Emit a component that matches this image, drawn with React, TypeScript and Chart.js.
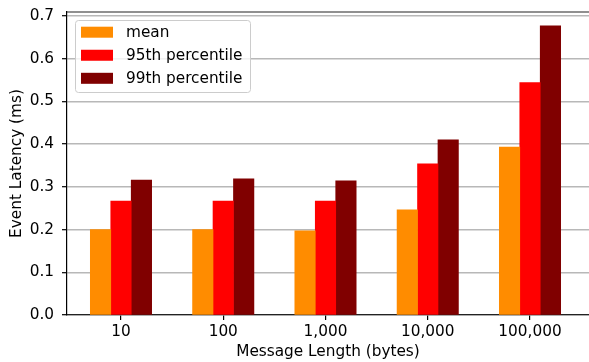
import React, { useEffect, useRef } from "react";
import { Chart, registerables } from "chart.js";

Chart.register(...registerables);

const categories = ["10", "100", "1,000", "10,000", "100,000"];
const meanValues = [0.2, 0.2, 0.197, 0.246, 0.393];
const p95Values = [0.267, 0.267, 0.267, 0.354, 0.544];
const p99Values = [0.316, 0.319, 0.314, 0.41, 0.677];
const yTicks = [0, 0.1, 0.2, 0.3, 0.4, 0.5, 0.6, 0.7];
const seriesNames = ["mean", "95th percentile", "99th percentile"];
const seriesColors = ["#ff8c00", "#ff0000", "#800000"];

const FONT = "DejaVu Sans";
const FS = 15.3;

const framePlugin = {
  id: "frameAndLegend",
  afterDraw(chart: any) {
    const { ctx, chartArea } = chart;
    ctx.save();
    // top spine
    ctx.strokeStyle = "#222";
    ctx.lineWidth = 1.2;
    ctx.beginPath();
    ctx.moveTo(chartArea.left, chartArea.top);
    ctx.lineTo(chartArea.right, chartArea.top);
    ctx.stroke();

    // legend
    const lx = 75.5, ly = 20.5, lw = 175, lh = 72, r = 3;
    ctx.beginPath();
    ctx.moveTo(lx + r, ly);
    ctx.lineTo(lx + lw - r, ly);
    ctx.arcTo(lx + lw, ly, lx + lw, ly + r, r);
    ctx.lineTo(lx + lw, ly + lh - r);
    ctx.arcTo(lx + lw, ly + lh, lx + lw - r, ly + lh, r);
    ctx.lineTo(lx + r, ly + lh);
    ctx.arcTo(lx, ly + lh, lx, ly + lh - r, r);
    ctx.lineTo(lx, ly + r);
    ctx.arcTo(lx, ly, lx + r, ly, r);
    ctx.closePath();
    ctx.fillStyle = "rgba(255,255,255,0.8)";
    ctx.fill();
    ctx.strokeStyle = "#cccccc";
    ctx.lineWidth = 1;
    ctx.stroke();

    ctx.font = `${FS}px "${FONT}"`;
    ctx.textBaseline = "middle";
    ctx.textAlign = "left";
    chart.data.datasets.forEach((ds: any, i: number) => {
      const cy = 32.2 + i * 23.05;
      ctx.fillStyle = ds.backgroundColor;
      ctx.fillRect(81, cy - 5.5, 32, 11);
      ctx.fillStyle = "#000";
      ctx.fillText(ds.label, 126, cy + 0.5);
    });
    ctx.restore();
  },
};

export default function App() {
  const ref = useRef<HTMLCanvasElement>(null);
  useEffect(() => {
    if (!ref.current) return;
    Chart.defaults.font.family = FONT;
    const mk = (vals: number[]) => vals.map((v, i) => ({ x: i, y: v }));
    const allVals = [meanValues, p95Values, p99Values];
    const chart = new Chart(ref.current, {
      type: "bar",
      data: {
        datasets: allVals.map((vals, k) => ({
          label: seriesNames[k],
          data: mk(vals),
          backgroundColor: seriesColors[k],
          borderWidth: 0,
          barThickness: 20.45,
        })),
      },
      options: {
        animation: false,
        responsive: false,
        maintainAspectRatio: false,
        layout: { padding: { top: 12, left: 0, right: 0, bottom: 0 } },
        plugins: { legend: { display: false }, tooltip: { enabled: false } },
        scales: {
          x: {
            type: "linear",
            offset: false,
            min: -0.528,
            max: 4.577,
            z: 2,
            afterFit: (s: any) => {
              s.height = 47;
              s.paddingLeft = 0;
              s.paddingRight = 0;
            },
            afterBuildTicks: (s: any) => {
              s.ticks = categories.map((_, i) => ({ value: i }));
            },
            ticks: {
              font: { size: FS },
              color: "#000",
              padding: 3,
              autoSkip: false,
              maxRotation: 0,
              callback: (v: any) => categories[Math.round(Number(v))] ?? "",
            },
            grid: {
              offset: false,
              drawOnChartArea: false,
              drawTicks: true,
              tickLength: 5,
              color: "#000",
              lineWidth: 1.2,
            },
            border: { display: true, color: "#222", width: 1.2 },
            title: {
              display: true,
              text: "Message Length (bytes)",
              font: { size: FS },
              color: "#000",
              padding: { top: 0, bottom: 0.8 },
            },
          },
          y: {
            type: "linear",
            min: 0,
            max: 0.7094,
            z: 1,
            afterFit: (s: any) => {
              s.width = 67;
              s.paddingTop = 0;
              s.paddingBottom = 0;
            },
            afterBuildTicks: (s: any) => {
              s.ticks = yTicks.map((v) => ({ value: v }));
            },
            ticks: {
              font: { size: FS },
              color: "#000",
              padding: 8,
              callback: (v: any) => Number(v).toFixed(1),
            },
            grid: {
              color: "#b8b8b8",
              lineWidth: 1.4,
              drawTicks: true,
              tickLength: 5,
              tickColor: "#000",
              tickWidth: 1.2,
            },
            border: { display: true, color: "#000", width: 1.2 },
            title: {
              display: true,
              text: "Event Latency (ms)",
              font: { size: FS },
              color: "#000",
              padding: { top: 8.3, bottom: 0 },
            },
          },
        },
      },
      plugins: [framePlugin],
    } as any);
    return () => chart.destroy();
  }, []);
  return (
    <div style={{ position: "fixed", left: 0, top: 0, width: 589, height: 362, background: "#fff" }}>
      <canvas ref={ref} width={589} height={362} style={{ display: "block" }} />
    </div>
  );
}
